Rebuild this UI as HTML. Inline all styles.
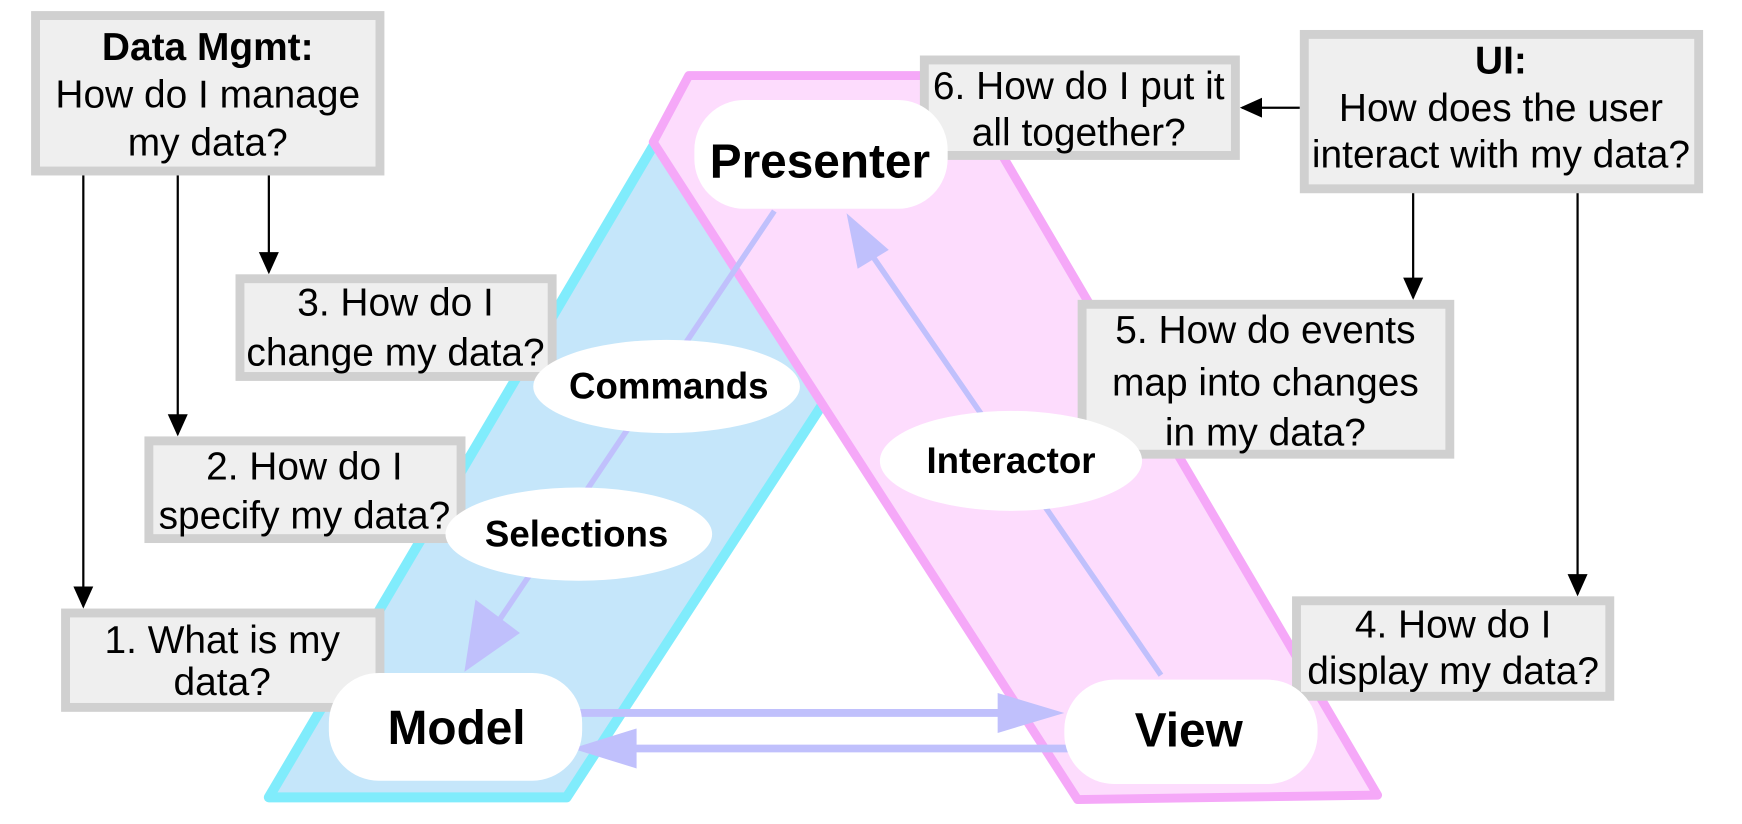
<!DOCTYPE html>
<html><head><meta charset="utf-8"><style>
html,body{margin:0;padding:0;background:#fff;}
svg{display:block;}
text{font-family:"Liberation Sans",Arial,sans-serif;}
</style></head><body>
<svg width="1742" height="824" viewBox="0 0 1568 742" preserveAspectRatio="none" xmlns="http://www.w3.org/2000/svg">
<defs>
<marker id="ab" markerWidth="20" markerHeight="36" refX="18" refY="9" orient="auto" markerUnits="userSpaceOnUse" viewBox="0 0 20 18"><path d="M0,0 L20,9 L0,18 z" fill="#000"/></marker>
</defs>
<rect width="1568" height="742" fill="#fff"/>
<polygon points="242,718 510,718 894,128 590,128" fill="#c5e6fa" stroke="#80ecfc" stroke-width="9" stroke-linejoin="round"/>
<polygon points="620,68 860,68 1240,716 970,720 588,128" fill="#fddcfd" stroke="#f5a8f8" stroke-width="8" stroke-linejoin="round"/>

<g fill="#c0c0fc" stroke="none">
<line x1="697" y1="190" x2="445" y2="565" stroke="#c0c0fc" stroke-width="5"/>
<polygon points="418,605 428,540 468,570"/>
<line x1="1045" y1="608" x2="785" y2="230" stroke="#c0c0fc" stroke-width="5"/>
<polygon points="762,192 800,225 772,242"/>
<line x1="520" y1="642" x2="905" y2="642" stroke="#c0c0fc" stroke-width="7"/>
<polygon points="958,642 898,624 898,660"/>
<line x1="962" y1="674" x2="565" y2="674" stroke="#c0c0fc" stroke-width="7"/>
<polygon points="515,674 573,656 573,692"/>
</g>

<g stroke="#000" stroke-width="2" marker-end="url(#ab)">
<line x1="75" y1="157" x2="75" y2="546"/>
<line x1="160" y1="157" x2="160" y2="391"/>
<line x1="242" y1="157" x2="242" y2="245"/>
<line x1="1272" y1="173" x2="1272" y2="268"/>
<line x1="1420" y1="173" x2="1420" y2="535"/>
<line x1="1170" y1="97" x2="1118" y2="97"/>
</g>

<g fill="#efefef" stroke="#d0d0d0" stroke-width="8">
<rect x="32" y="14" width="310" height="140"/>
<rect x="216" y="251" width="281" height="88"/>
<rect x="134" y="397" width="281" height="88"/>
<rect x="59" y="552" width="283" height="85"/>
<rect x="832" y="54" width="280" height="86"/>
<rect x="1174" y="31" width="355" height="139"/>
<rect x="974" y="274" width="331" height="135"/>
<rect x="1167" y="541" width="282" height="86"/>
</g>
<g font-size="35" text-anchor="middle" fill="#000">
<text x="187" y="54" font-weight="bold" font-size="35">Data Mgmt:</text>
<text x="187" y="97">How do I manage</text>
<text x="187" y="140">my data?</text>
<text x="356" y="284">3. How do I</text>
<text x="356" y="329">change my data?</text>
<text x="274" y="432">2. How do I</text>
<text x="274" y="476">specify my data?</text>
<text x="200" y="588">1. What is my</text>
<text x="200" y="626">data?</text>
<text x="971" y="89">6. How do I put it</text>
<text x="971" y="131">all together?</text>
<text x="1351" y="66" font-weight="bold" font-size="35">UI:</text>
<text x="1351" y="109">How does the user</text>
<text x="1351" y="151">interact with my data?</text>
<text x="1139" y="309">5. How do events</text>
<text x="1139" y="356">map into changes</text>
<text x="1139" y="401">in my data?</text>
<text x="1308" y="574">4. How do I</text>
<text x="1308" y="616">display my data?</text>
</g>

<g fill="#fff">
<rect x="625" y="90" width="228" height="98" rx="45"/>
<rect x="296" y="606" width="228" height="97" rx="45"/>
<rect x="958" y="612" width="228" height="94" rx="45"/>
<ellipse cx="600" cy="348" rx="120" ry="42"/>
<ellipse cx="521" cy="481" rx="120" ry="42"/>
<ellipse cx="910" cy="415" rx="118" ry="45"/>
</g>
<g font-weight="bold" text-anchor="middle" fill="#000">
<text x="738" y="160" font-size="43">Presenter</text>
<text x="411" y="670" font-size="43">Model</text>
<text x="1070" y="672" font-size="43">View</text>
<text x="602" y="359" font-size="33">Commands</text>
<text x="519" y="492" font-size="33">Selections</text>
<text x="910" y="426" font-size="33">Interactor</text>
</g>
</svg>
</body></html>
